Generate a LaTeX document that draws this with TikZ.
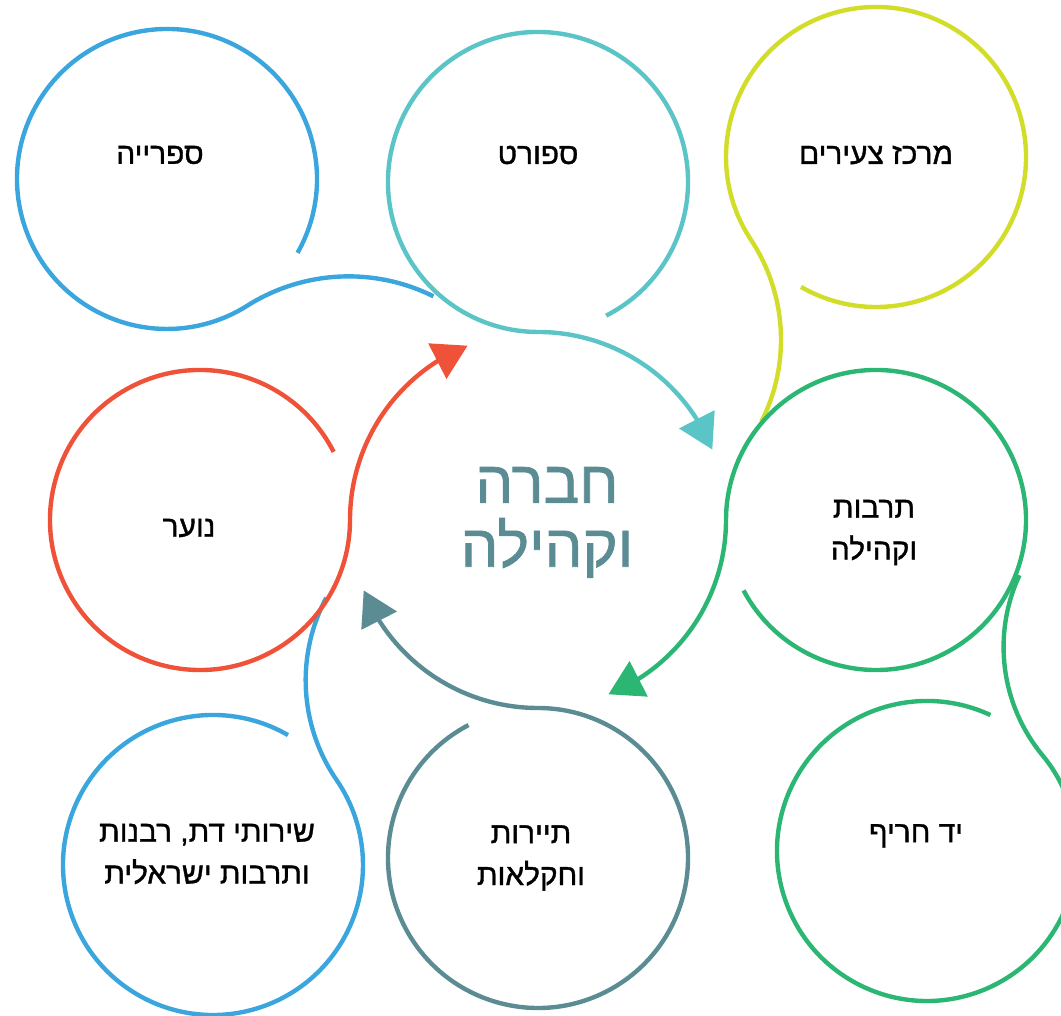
\documentclass[tikz,border=0pt]{standalone}
\usepackage{fontspec}
\usepackage{tikz}
\usetikzlibrary{arrows.meta, bending, calc}
\newfontfamily\hebfont[Script=Hebrew, FakeBold=1.2]{Liberation Sans}
\TeXXeTstate=1
\newcommand{\heb}[1]{\beginR #1\endR}
\definecolor{libblue}{HTML}{3AA6DD}
\definecolor{sportteal}{HTML}{5BC4C7}
\definecolor{youthlime}{HTML}{D2DD2A}
\definecolor{teenred}{HTML}{EF5239}
\definecolor{culturegreen}{HTML}{2CB673}
\definecolor{tourgray}{HTML}{5B8C93}

\begin{document}
\begin{tikzpicture}[x=0.02cm, y=0.02cm,
    ring/.style={line width=2.5pt},
    flow/.style={ring, -{Triangle[length=0.68cm, width=0.78cm]}},
    tag/.style={font=\hebfont\fontsize{17}{23.8}\selectfont, align=center, inner sep=0pt},
    coretag/.style={font=\hebfont\fontsize{34}{36.3}\selectfont, align=center, inner sep=0pt, text=tourgray}]
    \useasboundingbox (0,0) rectangle (1061,1016);
    \clip (0,0) rectangle (1061,1016);

    % Ring centres
    \coordinate (core) at (538,496);
    \coordinate (lib) at (167,837);
    \coordinate (sport) at (538,834);
    \coordinate (youth) at (876,859);
    \coordinate (teen) at (200,496);
    \coordinate (culture) at (876,496);
    \coordinate (relig) at (213,151);
    \coordinate (tour) at (538,158);
    \coordinate (yad) at (927,165);

    % Outer rings with a tail that runs into the next ring
    \foreach \ring/\col/\gap/\join/\stop/\rad in {lib/libblue/-29.5/302.3/63.5/190,
        youth/youthlime/240/573.5/333/181, relig/libblue/60/394.5/152/176,
        yad/culturegreen/65/399.6/155/170}
        \draw[ring, \col] ($(\ring)+(\gap:150)$) arc[start angle=\gap, end angle=\join, radius=150]
            arc[start angle=\join-180, end angle=\stop, radius=\rad];

    % Inner rings, each one rolling on into an arrow round the core
    \foreach \ring/\col/\gap/\join in {sport/sportteal/-63/90, culture/culturegreen/-152/0,
        tour/tourgray/117.6/270, teen/teenred/27/180}
        \draw[flow, \col] ($(\ring)+(\gap:150)$) arc[start angle=\gap, end angle=\join+180, radius=150]
            arc[start angle=\join, end angle=\join-68, radius=188];

    % Labels
    \node[coretag] (coretxt) at (547,493.5) {\heb{חברה}\\\heb{וקהילה}};
    \node[tag] (libtxt) at (160,861) {\heb{ספרייה}};
    \node[tag] (sporttxt) at (538,861) {\heb{ספורט}};
    \node[tag] (youthtxt) at (876,861) {\heb{מרכז צעירים}};
    \node[tag] (teentxt) at (189,488) {\heb{נוער}};
    \node[tag] (culturetxt) at (874,483.5) {\heb{תרבות}\\\heb{וקהילה}};
    \node[tag] (religtxt) at (207,162) {\heb{שירותי דת, רבנות}\\\heb{ותרבות ישראלית}};
    \node[tag] (tourtxt) at (531,158) {\heb{תיירות}\\\heb{וחקלאות}};
    \node[tag] (yadtxt) at (916,180) {\heb{יד חריף}};
\end{tikzpicture}
\end{document}
